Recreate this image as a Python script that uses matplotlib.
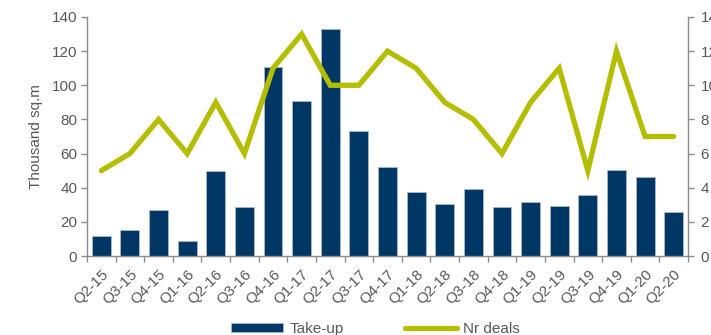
import matplotlib
matplotlib.use("Agg")
import matplotlib.pyplot as plt
import numpy as np

quarters = ["Q2-15","Q3-15","Q4-15","Q1-16","Q2-16","Q3-16","Q4-16","Q1-17","Q2-17","Q3-17",
            "Q4-17","Q1-18","Q2-18","Q3-18","Q4-18","Q1-19","Q2-19","Q3-19","Q4-19","Q1-20","Q2-20"]
take_up = [12, 15, 27, 9, 50, 28.5, 111, 91, 133, 73, 52, 37.5, 30.5, 39, 28.5, 31.5, 29, 36, 50.5, 46, 26]
nr_deals = [5, 6, 8, 6, 9, 6, 11, 13, 10, 10, 12, 11, 9, 8, 6, 9, 11, 5, 12, 7, 7]

plt.rcParams['font.family'] = ['Liberation Sans', 'DejaVu Sans']
GRAY = '#8c8c8c'
TXT = '#595959'
NAVY = '#003764'
LIME = '#b4bd00'

fig = plt.figure(figsize=(7.11, 3.35), dpi=100)
ax = fig.add_axes([87/711, 1-256/335, (688-87)/711, (256-17)/335])
x = np.arange(len(quarters))
ax.bar(x, take_up, width=0.66, color=NAVY, edgecolor='#a9b9c9', linewidth=0.6, label='Take-up', zorder=2)
ax.set_xlim(-0.5, len(quarters)-0.5)
ax.set_ylim(0, 140)
ax.set_yticks(np.arange(0, 141, 20))
ax.set_xticks(x)
ax.set_xticklabels(quarters, rotation=45, ha='right', rotation_mode='anchor')
ax.set_xticks(np.arange(-0.5, len(quarters), 1), minor=True)
ax.tick_params(axis='x', which='major', length=0, pad=8, labelsize=11, colors=TXT)
ax.tick_params(axis='x', which='minor', length=4, width=1, color=GRAY)
ax.tick_params(axis='y', length=4, width=1, color=GRAY, labelcolor=TXT, labelsize=11, pad=3)
ax.set_ylabel('Thousand sq.m', fontsize=11, color=TXT, labelpad=6)
for s in ['top', 'right']:
    ax.spines[s].set_visible(False)
for s in ['left', 'bottom']:
    ax.spines[s].set_color(GRAY)
    ax.spines[s].set_linewidth(1)

ax2 = ax.twinx()
ax2.plot(x, nr_deals, color=LIME, linewidth=3.8, solid_joinstyle='miter', solid_capstyle='round', label='Nr deals', zorder=3)
ax2.set_ylim(0, 14)
ax2.set_yticks(np.arange(0, 15, 2))
ax2.tick_params(axis='y', length=4, width=1, color=GRAY, labelcolor=TXT, labelsize=11, pad=5)
for s in ['top', 'left', 'bottom']:
    ax2.spines[s].set_visible(False)
ax2.spines['right'].set_color(GRAY)
ax2.spines['right'].set_linewidth(1)

h1, l1 = ax.get_legend_handles_labels()
h2, l2 = ax2.get_legend_handles_labels()
fig.legend(h1 + h2, l1 + l2, loc='center', bbox_to_anchor=(0.528, 0.018), ncol=2, frameon=False,
           fontsize=11, handlelength=3.4, handleheight=0.5, columnspacing=4.0, handletextpad=0.4,
           labelcolor=TXT)

fig.savefig('out.png', dpi=100)
